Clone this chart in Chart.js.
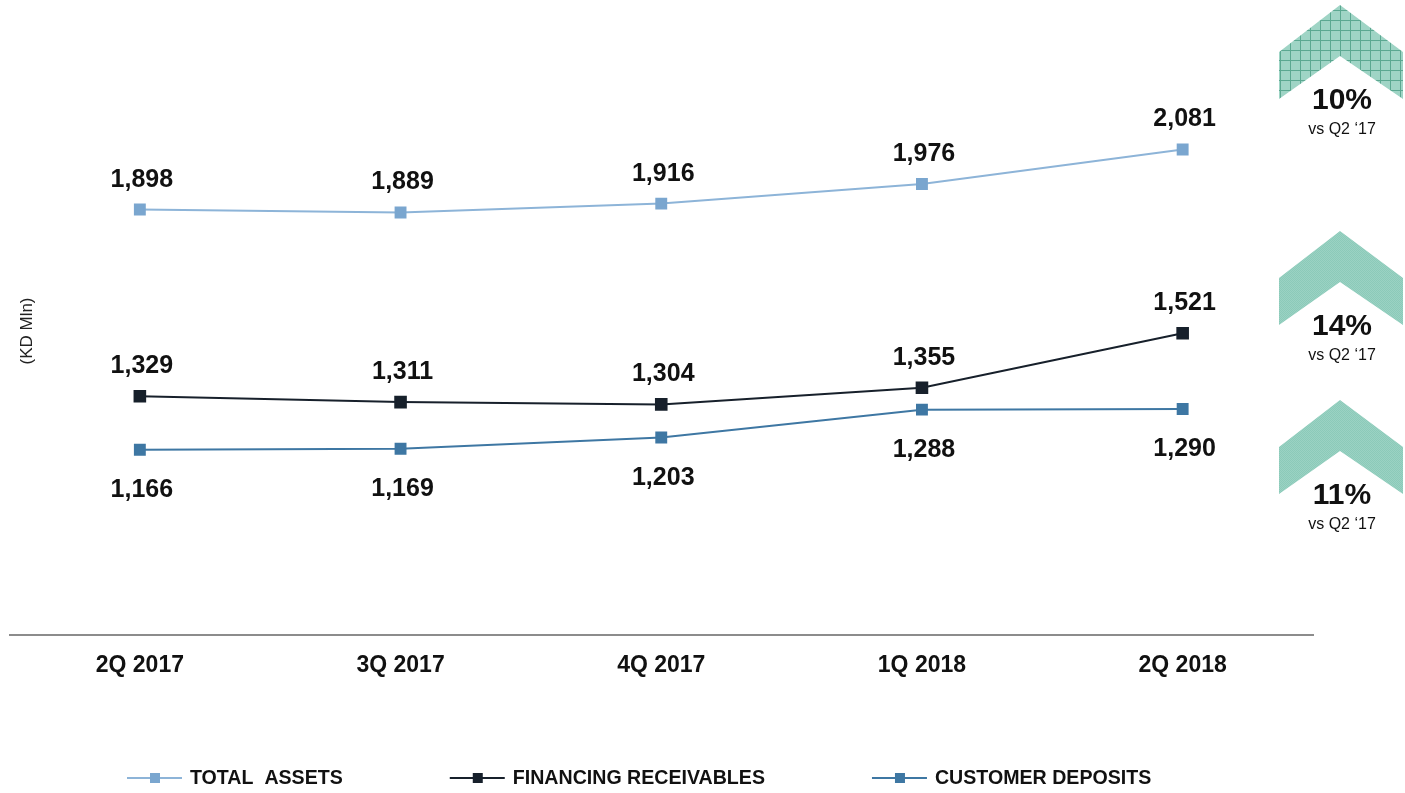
<!DOCTYPE html>
<html>
<head>
<meta charset="utf-8">
<script src="https://cdn.jsdelivr.net/npm/chart.js@4"></script>
<style>
html, body { margin: 0; padding: 0; background: #fff; }
</style>
</head>
<body>
<canvas id="growthChart" width="1405" height="793"></canvas>
<script>
// chart values
const quarters = ['2Q 2017', '3Q 2017', '4Q 2017', '1Q 2018', '2Q 2018'];
const totalAssets = [1898, 1889, 1916, 1976, 2081];
const financingReceivables = [1329, 1311, 1304, 1355, 1521];
const customerDeposits = [1166, 1169, 1203, 1288, 1290];
const seriesNames = ['TOTAL  ASSETS', 'FINANCING RECEIVABLES', 'CUSTOMER DEPOSITS'];
const growthPct = ['10%', '14%', '11%'];
const growthNote = 'vs Q2 \u201817';
const unitLabel = '(KD Mln)';

const FONT = '"Liberation Sans", Arial, sans-serif';

// label placement per series: true = above the point
const labelAbove = [true, true, false];

// small fill patterns for the growth chevrons
function gridPattern() {
    const c = document.createElement('canvas');
    c.width = 10; c.height = 10;
    const g = c.getContext('2d');
    g.fillStyle = '#9fd4c5';
    g.fillRect(0, 0, 10, 10);
    g.fillStyle = '#5ba891';
    g.fillRect(0, 0, 10, 1);
    g.fillRect(0, 0, 1, 10);
    return c;
}
function dotPattern() {
    const c = document.createElement('canvas');
    c.width = 2; c.height = 2;
    const g = c.getContext('2d');
    g.fillStyle = '#9bd2c3';
    g.fillRect(0, 0, 2, 2);
    g.fillStyle = '#8bcab9';
    g.fillRect(0, 0, 1, 1);
    g.fillRect(1, 1, 1, 1);
    return c;
}

// value labels above / below the points
const valueLabels = {
    id: 'valueLabels',
    afterDatasetsDraw(chart) {
        const ctx = chart.ctx;
        ctx.save();
        ctx.font = 'bold 25px ' + FONT;
        ctx.fillStyle = '#111';
        ctx.textAlign = 'center';
        chart.data.datasets.forEach((ds, i) => {
            chart.getDatasetMeta(i).data.forEach((pt, j) => {
                const txt = ds.data[j].toLocaleString('en-US');
                ctx.fillText(txt, pt.x + 2, labelAbove[i] ? pt.y - 23 : pt.y + 47);
            });
        });
        ctx.restore();
    }
};

// legend, unit label and growth chevrons
const extras = {
    id: 'extras',
    afterDraw(chart) {
        const ctx = chart.ctx;
        ctx.save();

        // unit label on the left
        ctx.save();
        ctx.translate(27, 331);
        ctx.rotate(-Math.PI / 2);
        ctx.font = '17px ' + FONT;
        ctx.fillStyle = '#222';
        ctx.textAlign = 'center';
        ctx.textBaseline = 'middle';
        ctx.fillText(unitLabel, 0, 0);
        ctx.restore();

        // legend
        let x = 127;
        const ly = 778;
        ctx.font = 'bold 19.6px ' + FONT;
        ctx.textBaseline = 'middle';
        chart.data.datasets.forEach((ds, i) => {
            ctx.strokeStyle = ds.borderColor;
            ctx.lineWidth = 2;
            ctx.beginPath();
            ctx.moveTo(x, ly);
            ctx.lineTo(x + 55, ly);
            ctx.stroke();
            ctx.fillStyle = ds.pointBackgroundColor;
            ctx.fillRect(x + 23, ly - 5, 10, 10);
            ctx.fillStyle = '#111';
            ctx.textAlign = 'left';
            ctx.fillText(seriesNames[i], x + 63, ly + 1);
            x = x + 63 + ctx.measureText(seriesNames[i]).width + 107;
        });

        // growth chevrons
        const tops = [5, 231, 400];
        const fills = [ctx.createPattern(gridPattern(), 'repeat'),
                       ctx.createPattern(dotPattern(), 'repeat'),
                       ctx.createPattern(dotPattern(), 'repeat')];
        tops.forEach((t, i) => {
            ctx.fillStyle = fills[i];
            ctx.beginPath();
            ctx.moveTo(1340, t);
            ctx.lineTo(1403, t + 47);
            ctx.lineTo(1403, t + 94);
            ctx.lineTo(1340, t + 51);
            ctx.lineTo(1279, t + 94);
            ctx.lineTo(1279, t + 47);
            ctx.closePath();
            ctx.fill();

            ctx.fillStyle = '#111';
            ctx.textAlign = 'center';
            ctx.textBaseline = 'alphabetic';
            ctx.font = 'bold 30px ' + FONT;
            ctx.fillText(growthPct[i], 1342, t + 104);
            ctx.font = '16px ' + FONT;
            ctx.fillText(growthNote, 1342, t + 129);
        });

        ctx.restore();
    }
};

const growthChart = new Chart(document.getElementById('growthChart'), {
    type: 'line',
    data: {
        labels: quarters,
        datasets: [
            {
                label: seriesNames[0],
                data: totalAssets,
                borderColor: '#8db4d8',
                pointBackgroundColor: '#7aa6cf',
                pointBorderColor: '#7aa6cf',
                borderWidth: 2,
                pointStyle: 'rect',
                pointRadius: 7
            },
            {
                label: seriesNames[1],
                data: financingReceivables,
                borderColor: '#17202b',
                pointBackgroundColor: '#17202b',
                pointBorderColor: '#17202b',
                borderWidth: 2,
                pointStyle: 'rect',
                pointRadius: 7.5
            },
            {
                label: seriesNames[2],
                data: customerDeposits,
                borderColor: '#3e77a3',
                pointBackgroundColor: '#3e77a3',
                pointBorderColor: '#3e77a3',
                borderWidth: 2,
                pointStyle: 'rect',
                pointRadius: 7
            }
        ]
    },
    options: {
        responsive: false,
        animation: false,
        layout: { padding: { left: 8, right: 92, top: 12, bottom: 98 } },
        plugins: {
            legend: { display: false },
            tooltip: { enabled: false }
        },
        scales: {
            x: {
                offset: true,
                grid: { display: false, drawTicks: false },
                border: { display: true, color: '#8c8c8c', width: 2 },
                ticks: {
                    padding: 16,
                    color: '#111',
                    font: { family: FONT, size: 23, weight: 'bold' }
                }
            },
            y: {
                display: false,
                min: 600,
                max: 2500
            }
        }
    },
    plugins: [valueLabels, extras]
});
</script>
</body>
</html>
